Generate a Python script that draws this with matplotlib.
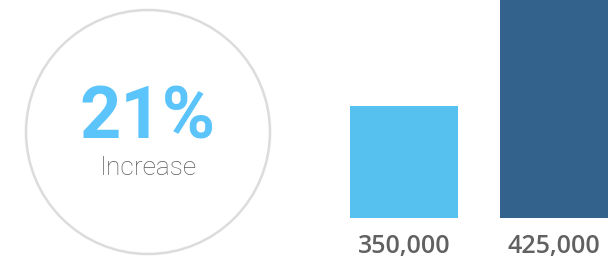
import matplotlib.pyplot as plt
from matplotlib.patches import Circle

# dados
values = [350000, 425000]
bar_colors = ["#56c0ee", "#33628d"]
value_labels = [f"{v:,}" for v in values]
increase = round((values[1] - values[0]) / values[0] * 100)

fig = plt.figure(figsize=(6.08, 2.6), dpi=100)

# camada de fundo em pixels para o círculo e o texto
bg = fig.add_axes([0, 0, 1, 1])
bg.set_xlim(0, 608)
bg.set_ylim(260, 0)
bg.axis("off")

bg.add_patch(Circle((148, 132), 122, fill=False, edgecolor="#dcdcdc", linewidth=1.8))

bg.text(148, 119, f"{increase}%", ha="center", va="center",
        fontsize=52, fontweight="bold", color="#5bc4fa", family=["Roboto", "DejaVu Sans"])
bg.text(148, 168, "Increase", ha="center", va="center",
        fontsize=19, fontweight="light", color="#5a5a5a", family=["Roboto", "DejaVu Sans"])

# barras
ax = fig.add_axes([350 / 608, 42 / 260, 258 / 608, 218 / 260])
x = range(len(values))
ax.bar(x, values, width=0.72, color=bar_colors, bottom=0)
ax.set_xlim(-0.36, 1.36)
ax.set_ylim(270700, 425000)
ax.axis("off")

for i, lab in enumerate(value_labels):
    ax.annotate(lab, xy=(i, 0), xycoords=("data", "axes fraction"),
                xytext=(0, -29), textcoords="offset pixels",
                ha="center", va="center", fontsize=18, fontweight="semibold",
                color="#616161", family=["Open Sans", "DejaVu Sans"], annotation_clip=False)

fig.savefig("out.png", dpi=100)
